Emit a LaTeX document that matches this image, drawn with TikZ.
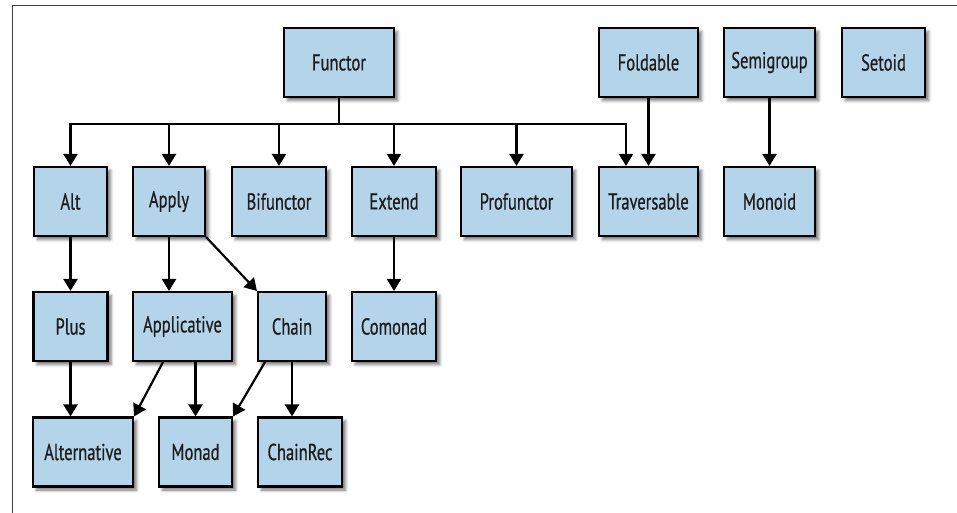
\documentclass[tikz,border=0pt]{standalone}
\usepackage{fontspec}
\setmainfont{PT Sans}[FakeStretch=0.72,FakeBold=0.6]
\usetikzlibrary{arrows.meta,shadows.blur}
\definecolor{boxfill}{RGB}{180,212,234}
\definecolor{txt}{RGB}{30,28,28}
\tikzset{
  tc/.style={draw=black, line width=2.1pt, fill=boxfill, text=txt, inner sep=0pt,
    minimum height=69pt, font=\fontsize{23}{27}\selectfont,
    blur shadow={shadow xshift=3.5pt, shadow yshift=-3.5pt, shadow blur radius=3pt, shadow opacity=55}},
  arr/.style={line width=2.2pt, -{Triangle[width=14pt,length=12pt]}},
  ln/.style={line width=2.2pt}
}
\begin{document}
\begin{tikzpicture}[x=1pt,y=-1pt]
\useasboundingbox (0,0) rectangle (957,513);
\draw[line width=0.8pt, black!75] (12,513) -- (12,5) -- (957,5);
% row 1
\node[tc, minimum width=110pt] (Functor) at (339,62.5) {Functor};
\node[tc, minimum width=99pt] (Foldable) at (648.5,62.5) {Foldable};
\node[tc, minimum width=91pt] (Semigroup) at (769.5,62.5) {Semigroup};
\node[tc, minimum width=83pt] (Setoid) at (883.5,62.5) {Setoid};
% row 2
\node[tc, minimum width=73pt] (Alt) at (70.5,201.5) {Alt};
\node[tc, minimum width=72pt] (Apply) at (169,201.5) {Apply};
\node[tc, minimum width=94pt] (Bifunctor) at (279,201.5) {Bifunctor};
\node[tc, minimum width=84pt] (Extend) at (394,201.5) {Extend};
\node[tc, minimum width=111pt] (Profunctor) at (516.5,201.5) {Profunctor};
\node[tc, minimum width=99pt] (Traversable) at (648.5,201.5) {Traversable};
\node[tc, minimum width=91pt] (Monoid) at (769.5,201.5) {Monoid};
% row 3
\node[tc, minimum width=74pt] (Plus) at (70.5,326.5) {Plus};
\node[tc, minimum width=99pt] (Applicative) at (182.5,326.5) {Applicative};
\node[tc, minimum width=68pt] (Chain) at (292,326.5) {Chain};
\node[tc, minimum width=84pt] (Comonad) at (394,326.5) {Comonad};
% row 4
\node[tc, minimum width=100pt] (Alternative) at (83,452) {Alternative};
\node[tc, minimum width=73pt] (Monad) at (195.5,452) {Monad};
\node[tc, minimum width=84pt] (ChainRec) at (300,452) {ChainRec};
% Functor bus
\coordinate (bus) at (339,124);
\draw[ln] (Functor.south) -- (bus);
\draw[arr] (bus) -| (Alt.north);
\draw[arr] (bus) -| (Apply.north);
\draw[arr] (bus) -| (Bifunctor.north);
\draw[arr] (bus) -| (Extend.north);
\draw[arr] (bus) -| (Profunctor.north);
\draw[arr] (bus) -| ([xshift=-22.5pt]Traversable.north);
% others
\draw[arr] (Foldable.south) -- (Traversable.north);
\draw[arr] (Semigroup.south) -- (Monoid.north);
\draw[arr] (Alt.south) -- (Plus.north);
\draw[arr] (Apply.south) -- (Apply.south |- Applicative.north);
\draw[arr] (Apply.south east) -- (Chain.north west);
\draw[arr] (Extend.south) -- (Comonad.north);
\draw[arr] (Plus.south) -- (Plus.south |- Alternative.north);
\draw[arr] ([xshift=-19.5pt]Applicative.south) -- (Alternative.north east);
\draw[arr] (Monad.north |- Applicative.south) -- (Monad.north);
\draw[arr] ([xshift=-27pt]Chain.south) -- (Monad.north east);
\draw[arr] (Chain.south) -- (Chain.south |- ChainRec.north);
\end{tikzpicture}
\end{document}
